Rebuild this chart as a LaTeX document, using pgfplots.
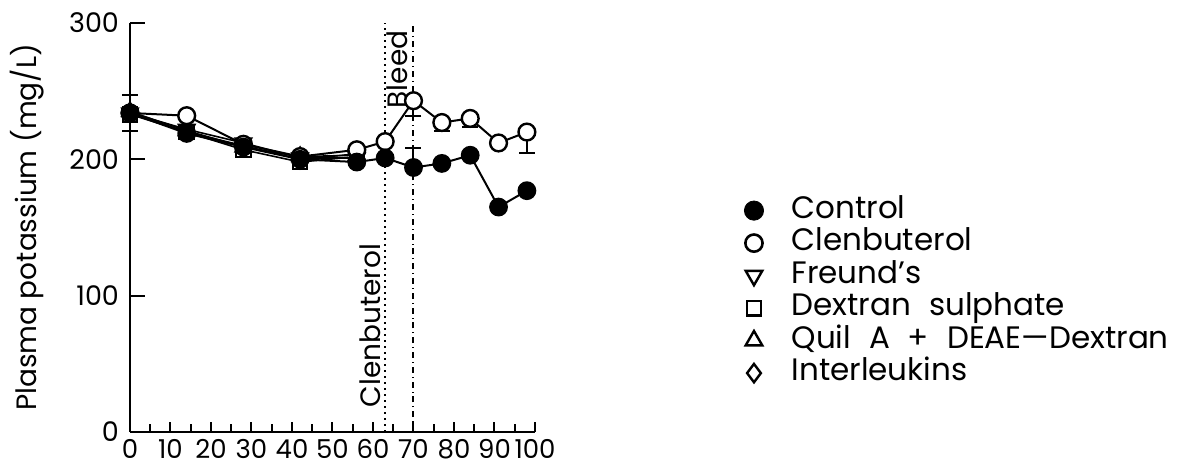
\documentclass[border=0pt]{standalone}
\usepackage{fontspec}
\setmainfont{Poppins}
\usepackage{pgfplots}
\pgfplotsset{compat=1.18}
\newcommand{\legfont}{\fontsize{15.5}{18}\selectfont\spaceskip 9pt\relax}
\begin{document}
\begin{tikzpicture}
\useasboundingbox (0,0) rectangle (595.5pt,237pt);
\begin{axis}[
  at={(65pt,21pt)}, anchor=south west,
  scale only axis, width=202.5pt, height=204.5pt,
  xmin=0, xmax=100, ymin=0, ymax=300,
  axis x line*=bottom, axis y line*=left,
  axis line style={line width=1.3pt, -},
  xtick={0,10,...,100}, minor x tick num=1,
  ytick={0,100,200,300},
  tick align=inside,
  xtick style={line width=1pt, black, /pgfplots/major tick length=5pt, /pgfplots/minor tick length=4pt},
  ytick style={line width=1pt, black, /pgfplots/major tick length=7.5pt},
  /pgf/number format/assume math mode=true,
  xticklabel style={font=\fontsize{13}{15}\selectfont},
  yticklabel style={font=\fontsize{13.5}{15}\selectfont, xshift=-2pt},
  ylabel={Plasma potassium (mg/L)},
  ylabel style={at={(axis description cs:-0.254,0.5)}, anchor=center, font=\fontsize{14}{16}\selectfont},
  clip=false,
  legend cell align=left,
  legend style={at={(axis description cs:1.516,0.582)}, anchor=north west, draw=none, fill=none,
    inner sep=0pt, font=\legfont, row sep=0pt,
    nodes={inner sep=0pt, text height=12pt, text depth=4.25pt},
    /tikz/every odd column/.append style={column sep=14pt}},
]
% event lines
\addplot[black, dotted, line width=1pt, forget plot] coordinates {(63,0)(63,300)};
\addplot[black, dash dot, line width=1pt, forget plot] coordinates {(70,0)(70,300)};
% other treatment groups (largely hidden)
\addplot[black, line width=0.8pt, mark=triangle, mark size=4.6pt, mark options={fill=white, line width=1pt, rotate=180}, forget plot]
  coordinates {(0,234)(14,222)(28,212)(42,201)(56,201)};
\addplot[black, line width=0.8pt, mark=square, mark size=3.6pt, mark options={fill=white, line width=1pt}, forget plot]
  coordinates {(0,233)(14,220)(28,207)(42,198)(56,202)};
\addplot[black, line width=0.8pt, mark=triangle, mark size=4.6pt, mark options={fill=white, line width=1pt}, forget plot]
  coordinates {(0,235)(14,221)(28,209)(42,202)(56,203)};
\addplot[black, line width=0.8pt, mark=diamond, mark size=4.6pt, mark options={fill=white, line width=1pt}, forget plot]
  coordinates {(0,234)(14,220)(28,210)(42,200)(56,204)};
% Clenbuterol
\addplot[black, line width=1pt, mark=*, mark size=4.2pt, mark options={fill=white, line width=1.2pt}, forget plot,
  error bars/.cd, y dir=both, y explicit, error bar style={line width=1pt},
  error mark options={rotate=90, mark size=4pt, line width=1pt}]
  coordinates {(0,234) (14,232) (28,211) (42,202) (56,207) (63,213)
  (70,243) -= (0,11) (77,227) -= (0,6) (84,230) -= (0,6) (91,212) (98,220) -= (0,15)};
% Control
\addplot[black, line width=1pt, mark=*, mark size=4.2pt, mark options={fill=black}, forget plot,
  error bars/.cd, y dir=both, y explicit, error bar style={line width=1pt},
  error mark options={rotate=90, mark size=4pt, line width=1pt}]
  coordinates {(0,234) +- (0,13) (14,219) (28,209) (42,200) (56,198) (63,201)
  (70,194) += (0,14) (77,197) (84,203) (91,165) (98,177)};
% legend entries
\addlegendimage{only marks, mark=*, mark size=4.8pt, fill=black}
\addlegendentry{Control}
\addlegendimage{only marks, mark=o, mark size=4.3pt, line width=1.3pt}
\addlegendentry{Clenbuterol}
\addlegendimage{only marks, mark=triangle, mark size=4.8pt, mark options={rotate=180}, line width=1.2pt}
\addlegendentry{Freund's}
\addlegendimage{only marks, mark=square, mark size=3.6pt, line width=1.2pt}
\addlegendentry{Dextran sulphate}
\addlegendimage{only marks, mark=triangle, mark size=4.8pt, line width=1.2pt}
\addlegendentry{Quil A + DEAE\textemdash Dextran}
\addlegendimage{only marks, mark=diamond, mark size=4.6pt, line width=1.2pt}
\addlegendentry{Interleukins}
% annotations
\node[rotate=90, font=\fontsize{14}{16}\selectfont] at (axis cs:59.3,78) {Clenbuterol};
\node[rotate=90, font=\fontsize{14}{16}\selectfont] at (axis cs:65.9,266) {Bleed};
\end{axis}
\end{tikzpicture}
\end{document}
